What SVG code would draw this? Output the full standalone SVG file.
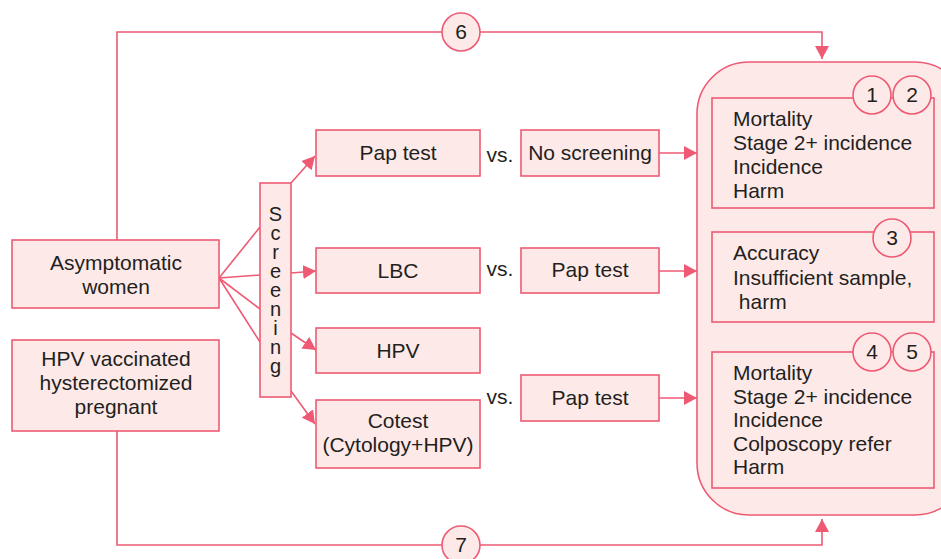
<svg xmlns="http://www.w3.org/2000/svg" width="941" height="559" viewBox="0 0 941 559">
<style>
.box{fill:#fde9e8;stroke:#ee5a73;stroke-width:1.6}
.ln{fill:none;stroke:#ee5a73;stroke-width:1.6}
.t{font-family:"Liberation Sans",Arial,sans-serif;font-size:21px;fill:#231f20}
.c{text-anchor:middle}
.v{font-family:"Liberation Sans",Arial,sans-serif;font-size:20px;fill:#231f20;writing-mode:vertical-rl;text-orientation:upright;letter-spacing:-3px}
</style>
<defs>
<marker id="ah" markerUnits="userSpaceOnUse" markerWidth="14" markerHeight="14" refX="13" refY="7" orient="auto">
<path d="M0,0 L13,7 L0,14 z" fill="#ee5a73"/>
</marker>
</defs>
<rect width="941" height="559" fill="#ffffff"/>

<g id="outcomes-container">
<rect class="box" x="697" y="62" width="270" height="453" rx="52"/>
</g>

<g id="connectors">
<path class="ln" d="M117,240 V32 H822 V59" marker-end="url(#ah)"/>
<path class="ln" d="M117,431 V545 H822 V519" marker-end="url(#ah)"/>
<line class="ln" x1="219" y1="278" x2="260" y2="227"/>
<line class="ln" x1="219" y1="278" x2="260" y2="275"/>
<line class="ln" x1="219" y1="278" x2="260" y2="309"/>
<line class="ln" x1="219" y1="278" x2="260" y2="342"/>
<line class="ln" x1="291" y1="183" x2="315" y2="156" marker-end="url(#ah)"/>
<line class="ln" x1="291" y1="273" x2="316" y2="271" marker-end="url(#ah)"/>
<line class="ln" x1="291" y1="333" x2="316" y2="350" marker-end="url(#ah)"/>
<line class="ln" x1="291" y1="391" x2="315" y2="424" marker-end="url(#ah)"/>
<line class="ln" x1="659" y1="153" x2="697" y2="153" marker-end="url(#ah)"/>
<line class="ln" x1="659" y1="271" x2="697" y2="271" marker-end="url(#ah)"/>
<line class="ln" x1="659" y1="398" x2="697" y2="398" marker-end="url(#ah)"/>
</g>

<g id="asymptomatic">
<rect class="box" x="12" y="240" width="207" height="68"/>
<text class="t c" x="116" y="270">Asymptomatic</text>
<text class="t c" x="116" y="294">women</text>
</g>

<g id="excluded">
<rect class="box" x="12" y="340" width="207" height="91"/>
<text class="t c" x="116" y="366">HPV vaccinated</text>
<text class="t c" x="116" y="390">hysterectomized</text>
<text class="t c" x="116" y="414">pregnant</text>
</g>

<g id="screening">
<rect class="box" x="260" y="183" width="31" height="214"/>
<text class="v" x="275.5" y="203">Screening</text>
</g>

<g id="pap-test">
<rect class="box" x="316" y="130" width="164" height="46"/>
<text class="t c" x="398" y="160">Pap test</text>
</g>
<g id="lbc">
<rect class="box" x="316" y="248" width="164" height="45"/>
<text class="t c" x="398" y="278">LBC</text>
</g>
<g id="hpv">
<rect class="box" x="316" y="328" width="164" height="45"/>
<text class="t c" x="398" y="358">HPV</text>
</g>
<g id="cotest">
<rect class="box" x="316" y="400" width="164" height="68"/>
<text class="t c" x="398" y="428">Cotest</text>
<text class="t c" x="398" y="452">(Cytology+HPV)</text>
</g>

<g id="vs-labels">
<text class="t c" x="500" y="162">vs.</text>
<text class="t c" x="500" y="276">vs.</text>
<text class="t c" x="500" y="404">vs.</text>
</g>

<g id="no-screening">
<rect class="box" x="521" y="130" width="138" height="46"/>
<text class="t c" x="590" y="160">No screening</text>
</g>
<g id="pap-test-2">
<rect class="box" x="521" y="248" width="138" height="45"/>
<text class="t c" x="590" y="277">Pap test</text>
</g>
<g id="pap-test-3">
<rect class="box" x="521" y="375" width="138" height="46"/>
<text class="t c" x="590" y="405">Pap test</text>
</g>

<g id="outcome-1-2">
<rect class="box" x="712" y="98" width="222" height="110"/>
<text class="t" x="733" y="126">Mortality</text>
<text class="t" x="733" y="150">Stage 2+ incidence</text>
<text class="t" x="733" y="174">Incidence</text>
<text class="t" x="733" y="198">Harm</text>
<circle class="box" cx="872" cy="95" r="19"/>
<circle class="box" cx="912" cy="95" r="19"/>
<text class="t c" x="872" y="102">1</text>
<text class="t c" x="912" y="102">2</text>
</g>

<g id="outcome-3">
<rect class="box" x="712" y="232" width="222" height="90"/>
<text class="t" x="733" y="260">Accuracy</text>
<text class="t" x="733" y="285">Insufficient sample,</text>
<text class="t" x="733" y="309" xml:space="preserve"> harm</text>
<circle class="box" cx="892" cy="238" r="19"/>
<text class="t c" x="892" y="245">3</text>
</g>

<g id="outcome-4-5">
<rect class="box" x="712" y="352" width="222" height="136"/>
<text class="t" x="733" y="380">Mortality</text>
<text class="t" x="733" y="404">Stage 2+ incidence</text>
<text class="t" x="733" y="427">Incidence</text>
<text class="t" x="733" y="451">Colposcopy refer</text>
<text class="t" x="733" y="474">Harm</text>
<circle class="box" cx="872" cy="352" r="19"/>
<circle class="box" cx="912" cy="352" r="19"/>
<text class="t c" x="872" y="359">4</text>
<text class="t c" x="912" y="359">5</text>
</g>

<g id="label-6">
<circle class="box" cx="461" cy="32" r="19"/>
<text class="t c" x="461" y="39">6</text>
</g>
<g id="label-7">
<circle class="box" cx="461" cy="545" r="19"/>
<text class="t c" x="461" y="552">7</text>
</g>
</svg>
